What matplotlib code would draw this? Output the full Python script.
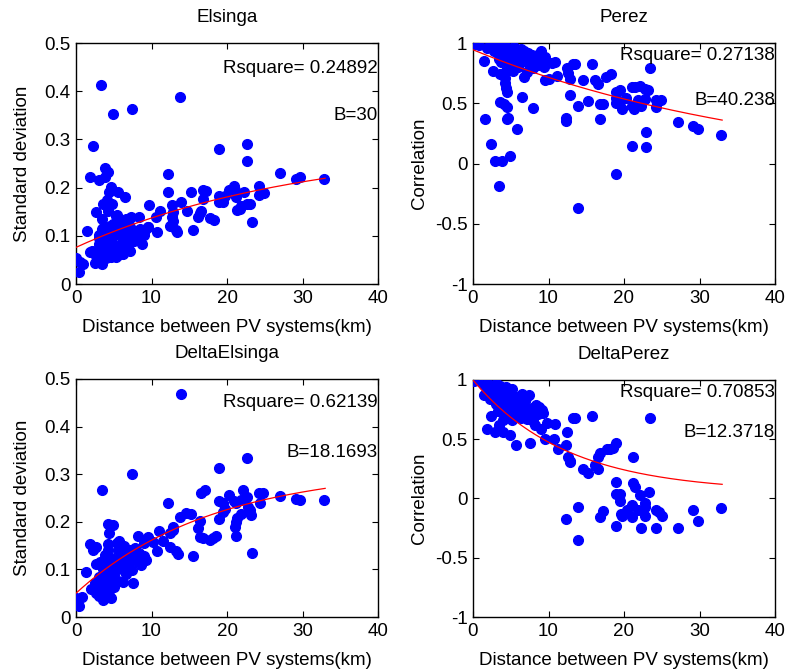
import numpy as np
import matplotlib
matplotlib.use("Agg")
import matplotlib.pyplot as plt

plt.rcParams['font.family'] = ['Liberation Sans', 'DejaVu Sans']
plt.rcParams['font.size'] = 13.5

# === Elsinga ===
dist1 = [0.0, 0.5, 0.9, 0.4, 1.4, 2.3, 1.8, 3.0, 3.9, 4.3, 3.9, 4.7, 5.6, 6.5, 4.4, 4.1, 3.6, 2.7, 4.2, 3.5,
         4.9, 5.4, 6.6, 7.1, 8.3, 9.7, 11.1, 12.2, 12.2, 12.7, 15.2, 13.9, 14.7, 12.7, 12.9, 13.3, 10.6, 10.7, 15.5, 3.5,
         4.5, 5.8, 7.2, 8.5, 9.6, 3.1, 4.1, 4.9, 6.1, 6.7, 7.6, 8.7, 9.0, 4.1, 5.2, 6.1, 6.9, 7.7, 8.1, 8.7,
         3.1, 1.9, 2.7, 4.0, 5.1, 6.0, 6.9, 7.2, 2.6, 3.6, 4.7, 5.6, 6.2, 2.5, 3.4, 4.0, 5.3, 5.0, 3.3, 4.9,
         7.4, 13.8, 18.9, 22.7, 22.7, 13.4, 12.5, 16.1, 16.4, 16.6, 16.8, 17.2, 16.8, 17.7, 18.3, 18.9, 19.0, 19.5, 19.7, 20.2,
         20.9, 21.1, 21.2, 21.3, 21.7, 22.2, 21.9, 22.6, 23.0, 23.3, 24.2, 24.2, 24.9, 27.0, 29.2, 29.7, 32.8, 5.3, 4.3, 3.6,
         2.1, 3.0, 4.4, 5.8, 6.4, 7.5, 8.0, 9.2, 6.3, 7.3, 5.9, 4.6, 3.8, 8.2, 9.5, 12.8, 4.8, 3.0]
std1 = [0.053, 0.046, 0.041, 0.024, 0.110, 0.286, 0.223, 0.216, 0.240, 0.232, 0.223, 0.202, 0.190, 0.180, 0.190, 0.174, 0.167, 0.150, 0.154, 0.134,
        0.124, 0.143, 0.134, 0.136, 0.138, 0.164, 0.152, 0.228, 0.190, 0.164, 0.190, 0.171, 0.152, 0.138, 0.130, 0.112, 0.140, 0.107, 0.113, 0.115,
        0.120, 0.112, 0.119, 0.115, 0.119, 0.102, 0.098, 0.100, 0.098, 0.102, 0.105, 0.109, 0.102, 0.086, 0.081, 0.082, 0.087, 0.089, 0.092, 0.084,
        0.082, 0.067, 0.069, 0.072, 0.067, 0.071, 0.074, 0.068, 0.058, 0.060, 0.057, 0.060, 0.063, 0.043, 0.042, 0.053, 0.056, 0.076, 0.412, 0.353,
        0.363, 0.387, 0.280, 0.290, 0.255, 0.108, 0.120, 0.139, 0.148, 0.152, 0.194, 0.192, 0.176, 0.136, 0.132, 0.182, 0.171, 0.171, 0.182, 0.194,
        0.203, 0.194, 0.181, 0.153, 0.155, 0.190, 0.162, 0.167, 0.166, 0.129, 0.204, 0.185, 0.188, 0.230, 0.218, 0.222, 0.218, 0.141, 0.152, 0.117,
        0.068, 0.050, 0.064, 0.079, 0.090, 0.096, 0.110, 0.112, 0.118, 0.139, 0.128, 0.108, 0.092, 0.100, 0.118, 0.150, 0.165, 0.095]

# === Perez ===
dist2 = [0.2, 0.5, 0.8, 1.4, 1.8, 2.2, 2.6, 3.0, 3.4, 3.8, 4.2, 4.6, 5.0, 5.4, 5.8, 6.3, 6.8, 7.3, 7.8, 8.3,
         8.8, 9.3, 2.8, 3.4, 4.0, 4.6, 5.2, 5.8, 6.3, 7.0, 7.6, 8.0, 8.6, 9.4, 10.5, 3.4, 3.7, 4.6, 5.5, 6.6,
         7.3, 7.95, 2.7, 3.6, 4.4, 5.3, 4.2, 4.4, 4.5, 4.3, 6.7, 7.1, 6.5, 3.6, 4.1, 4.5, 8.0, 4.6, 4.5, 1.6,
         5.8, 2.4, 2.9, 3.9, 4.9, 3.4, 9.6, 10.9, 11.1, 12.4, 12.6, 12.8, 13.2, 13.5, 12.9, 13.9, 12.3, 12.3, 13.9, 14.6,
         15.2, 15.7, 16.2, 16.5, 16.8, 17.2, 16.8, 17.6, 18.3, 18.9, 19.5, 18.9, 18.9, 19.5, 19.8, 20.3, 18.9, 21.1, 21.5, 21.0,
         21.3, 22.1, 21.8, 22.3, 22.8, 23.2, 22.8, 23.5, 22.9, 22.9, 21.1, 24.3, 24.3, 24.9, 27.1, 29.2, 29.8, 32.9, 9.0, 9.5,
         10.0, 6.0, 5.0]
corr2 = [0.99, 0.99, 0.98, 0.85, 0.96, 0.98, 0.99, 0.99, 0.98, 0.99, 0.97, 0.96, 0.95, 0.97, 0.94, 0.95, 0.93, 0.92, 0.90, 0.88,
         0.91, 0.86, 0.93, 0.90, 0.92, 0.90, 0.88, 0.86, 0.89, 0.87, 0.84, 0.82, 0.82, 0.80, 0.83, 0.87, 0.84, 0.85, 0.90, 0.85,
         0.83, 0.79, 0.77, 0.74, 0.77, 0.77, 0.67, 0.63, 0.59, 0.71, 0.72, 0.76, 0.556, 0.514, 0.49, 0.47, 0.458, 0.38, 0.37, 0.37,
         0.285, 0.16, 0.021, 0.021, 0.059, -0.185, 0.69, 0.84, 0.73, 0.79, 0.75, 0.705, 0.826, 0.826, 0.57, 0.48, 0.376, 0.354, -0.37, 0.69,
         0.517, 0.826, 0.697, 0.66, 0.494, 0.494, 0.368, 0.72, 0.74, 0.59, 0.607, 0.54, 0.50, 0.51, 0.45, 0.54, -0.087, 0.635, 0.635, 0.48,
         0.45, 0.64, 0.53, 0.48, 0.62, 0.607, 0.537, 0.79, 0.26, 0.135, 0.149, 0.47, 0.53, 0.53, 0.345, 0.31, 0.284, 0.233, 0.93, 0.88,
         0.70, 0.80, 0.83]

# === DeltaElsinga ===
dist3 = [0.0, 0.75, 0.44, 1.3, 1.8, 2.3, 2.7, 3.4, 4.3, 4.4, 4.3, 4.7, 4.9, 5.4, 5.7, 7.4, 8.2, 9.6, 11.0, 10.7,
         12.2, 12.4, 12.8, 12.4, 12.9, 13.3, 13.5, 13.9, 13.8, 14.6, 15.2, 15.5, 16.1, 16.4, 16.6, 17.1, 16.4, 16.8, 17.7, 18.2,
         18.6, 18.9, 18.9, 18.9, 19.5, 19.7, 19.5, 20.2, 20.9, 21.2, 21.0, 21.2, 21.3, 21.2, 21.9, 22.1, 21.9, 22.7, 22.7, 22.8,
         23.0, 23.2, 23.3, 24.3, 24.4, 24.8, 27.0, 29.2, 29.7, 32.8, 2.0, 2.5, 2.9, 3.0, 3.3, 3.5, 3.6, 3.8, 4.0, 4.1,
         4.3, 4.5, 4.6, 4.8, 5.0, 5.2, 5.4, 5.6, 5.8, 6.0, 6.2, 6.4, 6.6, 6.8, 7.0, 7.2, 7.4, 7.6, 7.8, 8.0,
         8.4, 8.6, 9.0, 9.3, 3.2, 3.0, 4.4, 5.0, 2.6, 3.8, 4.2, 3.2, 2.6, 5.5, 6.3, 9.0, 10.2, 11.5, 6.2, 4.7,
         3.6, 7.5]
std3 = [0.039, 0.042, 0.024, 0.094, 0.154, 0.141, 0.148, 0.266, 0.154, 0.176, 0.196, 0.194, 0.193, 0.155, 0.159, 0.301, 0.171, 0.169, 0.180, 0.138,
        0.240, 0.176, 0.183, 0.148, 0.190, 0.138, 0.133, 0.469, 0.211, 0.218, 0.217, 0.129, 0.187, 0.201, 0.260, 0.266, 0.169, 0.167, 0.162, 0.166,
        0.171, 0.312, 0.243, 0.206, 0.240, 0.227, 0.220, 0.257, 0.243, 0.240, 0.190, 0.200, 0.208, 0.171, 0.245, 0.267, 0.217, 0.253, 0.334, 0.232,
        0.224, 0.214, 0.134, 0.260, 0.240, 0.260, 0.255, 0.248, 0.245, 0.245, 0.058, 0.072, 0.060, 0.085, 0.048, 0.075, 0.100, 0.060, 0.090, 0.112,
        0.070, 0.100, 0.125, 0.082, 0.108, 0.095, 0.120, 0.075, 0.110, 0.130, 0.100, 0.118, 0.090, 0.135, 0.115, 0.140, 0.098, 0.125, 0.145, 0.118,
        0.135, 0.110, 0.128, 0.120, 0.050, 0.045, 0.055, 0.062, 0.050, 0.130, 0.140, 0.115, 0.112, 0.140, 0.150, 0.155, 0.158, 0.160, 0.073, 0.040,
        0.036, 0.072]

# === DeltaPerez ===
dist4 = [0.1, 0.5, 1.4, 1.85, 2.4, 2.96, 3.4, 3.97, 4.9, 5.7, 7.5, 8.2, 9.0, 9.8, 10.8, 9.6, 10.7, 11.2, 12.3, 12.5,
         12.6, 12.8, 12.9, 13.3, 13.5, 14.6, 15.2, 15.7, 16.2, 16.5, 16.5, 16.8, 17.7, 18.1, 18.5, 18.9, 21.2, 23.4, 13.9, 12.3,
         13.85, 16.8, 17.2, 18.9, 18.9, 19.5, 19.5, 19.6, 19.8, 18.9, 20.4, 21.0, 21.2, 21.5, 21.0, 21.8, 22.1, 22.8, 22.8, 22.8,
         23.3, 22.2, 24.3, 24.6, 25.0, 24.3, 27.1, 29.2, 29.8, 32.9, 1.5, 2.0, 2.4, 2.8, 3.2, 3.6, 4.0, 4.4, 4.8, 5.2,
         2.6, 3.0, 3.4, 3.8, 4.2, 4.6, 5.0, 5.5, 6.0, 6.5, 7.0, 7.4, 3.0, 3.6, 4.1, 4.5, 5.0, 5.6, 6.2, 6.8,
         7.3, 7.8, 8.3, 8.8, 9.2, 8.6, 7.6, 6.7, 5.9, 4.4, 4.0, 5.2, 4.8, 3.3, 6.3, 7.1, 8.0, 9.3, 2.2, 1.9,
         5.4, 6.9]
corr4 = [0.99, 1.0, 0.87, 0.59, 0.70, 0.563, 0.62, 0.563, 0.535, 0.45, 0.465, 0.62, 0.59, 0.64, 0.625, 0.50, 0.50, 0.415, 0.45, 0.563,
         0.35, 0.32, 0.305, 0.676, 0.676, 0.245, 0.217, 0.70, 0.28, 0.245, 0.35, 0.38, 0.42, 0.42, 0.43, 0.465, 0.352, 0.676, -0.07, -0.17,
         -0.35, -0.155, -0.105, 0.14, 0.04, 0.04, -0.02, -0.127, -0.15, -0.23, -0.093, -0.056, 0.132, 0.093, -0.155, -0.093, 0.028, -0.037, -0.07, -0.146,
         0.054, -0.245, -0.093, -0.113, -0.146, -0.245, -0.245, -0.093, -0.19, -0.079, 0.96, 0.97, 0.95, 0.96, 0.97, 0.95, 0.93, 0.94, 0.91, 0.92,
         0.90, 0.88, 0.91, 0.86, 0.88, 0.85, 0.87, 0.84, 0.86, 0.88, 0.85, 0.87, 0.80, 0.78, 0.82, 0.76, 0.79, 0.77, 0.80, 0.78,
         0.74, 0.76, 0.79, 0.77, 0.75, 0.71, 0.70, 0.72, 0.70, 0.69, 0.66, 0.66, 0.72, 0.74, 0.68, 0.67, 0.65, 0.72, 0.84, 0.93,
         0.74, 0.82]

titles = ["Elsinga", "Perez", "DeltaElsinga", "DeltaPerez"]
ylabels = ["Standard deviation", "Correlation", "Standard deviation", "Correlation"]
rsquare = ["0.24892", "0.27138", "0.62139", "0.70853"]
bvals = ["30", "40.238", "18.1693", "12.3718"]

# fitted exponential models: (kind, a, c, B)
fits = [("grow", 0.215, 0.076, 30.0),
        ("decay", 1.043, -0.099, 40.238),
        ("grow", 0.263, 0.05, 18.1693),
        ("decay", 0.9456, 0.054, 12.3718)]

xs = [dist1, dist2, dist3, dist4]
ys = [std1, corr2, std3, corr4]

fig = plt.figure(figsize=(7.87, 6.72), dpi=100)
W, H = 787.0, 672.0
boxes = [(76, 43, 378, 284), (473, 43, 775, 284), (76, 379, 378, 617), (473, 380, 775, 617)]
txt_y = [(0.896, 0.701), (0.95, 0.763), (0.903, 0.693), (0.949, 0.78)]

for i in range(4):
    l, t, r, b = boxes[i]
    ax = fig.add_axes([l / W, 1 - b / H, (r - l) / W, (b - t) / H])
    ax.plot(xs[i], ys[i], 'o', color='b', ms=7, mec='b', zorder=3)

    kind, a, c, B = fits[i]
    xf = np.linspace(0, 33, 200)
    if kind == "grow":
        yf = c + a * (1 - np.exp(-xf / B))
    else:
        yf = c + a * np.exp(-xf / B)
    ax.plot(xf, yf, color='r', lw=0.9, zorder=4)

    ax.set_xlim(0, 40)
    ax.set_xticks([0, 10, 20, 30, 40])
    if ylabels[i] == "Correlation":
        ax.set_ylim(-1, 1)
        ax.set_yticks([-1, -0.5, 0, 0.5, 1])
        ax.set_yticklabels(["-1", "-0.5", "0", "0.5", "1"])
    else:
        ax.set_ylim(0, 0.5)
        ax.set_yticks([0, 0.1, 0.2, 0.3, 0.4, 0.5])
        ax.set_yticklabels(["0", "0.1", "0.2", "0.3", "0.4", "0.5"])

    ax.tick_params(direction='in', top=True, right=True, length=4, width=0.8, pad=4)
    for s in ax.spines.values():
        s.set_linewidth(1.0)

    ax.set_title(titles[i], pad=15, fontsize=13.5)
    ax.set_xlabel("Distance between PV systems(km)", labelpad=9)
    ax.set_ylabel(ylabels[i])
    ax.yaxis.set_label_coords(-0.15, 0.5)

    ax.text(1.0, txt_y[i][0], "Rsquare= " + rsquare[i], transform=ax.transAxes,
            ha='right', va='center')
    ax.text(1.0, txt_y[i][1], "B=" + bvals[i], transform=ax.transAxes,
            ha='right', va='center')

fig.savefig("out.png", dpi=100)
